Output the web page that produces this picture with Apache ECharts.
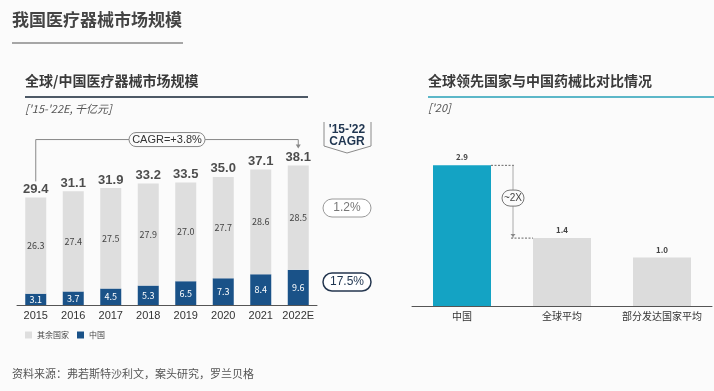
<!DOCTYPE html>
<html><head><meta charset="utf-8">
<script src="https://cdn.jsdelivr.net/npm/echarts@6/dist/echarts.min.js"></script>
<style>html,body{margin:0;padding:0;background:#fbfbfb}#c{width:714px;height:391px}</style>
</head><body><div id="c"></div>
<script>
var years = ['2015','2016','2017','2018','2019','2020','2021','2022E'];
var chinaVals = [3.1,3.7,4.5,5.3,6.5,7.3,8.4,9.6];
var otherVals = [26.3,27.4,27.5,27.9,27.0,27.7,28.6,28.5];
var totalVals = [29.4,31.1,31.9,33.2,33.5,35.0,37.1,38.1];
var cmpCats = ['中国','全球平均','部分发达国家平均'];
var cmpVals = [2.9,1.4,1.0];
var cagrText = 'CAGR=+3.8%';
var otherCagr = '1.2%';
var chinaCagr = '17.5%';

var FONT = '"Noto Sans CJK SC", "Liberation Sans", sans-serif';
var chart = echarts.init(document.getElementById('c'));

var staticGraphics = [
  {type:'text', left:12, top:11, style:{text:'我国医疗器械市场规模', font:'bold 17px '+FONT, fill:'#444'}},
  {type:'line', shape:{x1:12,y1:43,x2:183,y2:43}, style:{stroke:'#8a8a8a', lineWidth:1.5}},
  {type:'text', left:25, top:74, style:{text:'全球/中国医疗器械市场规模', font:'bold 14px '+FONT, fill:'#3a3a3a'}},
  {type:'line', shape:{x1:25,y1:97,x2:308,y2:97}, style:{stroke:'#4d5966', lineWidth:2}},
  {type:'text', left:25, top:103, style:{text:"['15-'22E, 千亿元]", font:'italic 11px '+FONT, fill:'#555'}},
  {type:'text', left:428, top:74, style:{text:'全球领先国家与中国药械比对比情况', font:'bold 14px '+FONT, fill:'#3a3a3a'}},
  {type:'line', shape:{x1:428,y1:97,x2:714,y2:97}, style:{stroke:'#5cb7c8', lineWidth:2}},
  {type:'text', left:428, top:102, style:{text:"['20]", font:'italic 11px '+FONT, fill:'#555'}},
  {type:'polyline', shape:{points:[[324,122],[324,146],[347,153],[371,146],[371,122]]}, style:{stroke:'#8a8a8a', lineWidth:1, fill:null}},
  {type:'text', x:347, y:130, style:{text:"'15-'22", font:'bold 12px "Liberation Sans", sans-serif', fill:'#1f3550', align:'center', verticalAlign:'middle'}},
  {type:'text', x:347, y:142, style:{text:'CAGR', font:'bold 12px "Liberation Sans", sans-serif', fill:'#1f3550', align:'center', verticalAlign:'middle'}},
  {type:'rect', shape:{x:323,y:199,width:48,height:18,r:9}, style:{fill:'#fff', stroke:'#9a9a9a', lineWidth:1}},
  {type:'text', x:347, y:208, style:{text:otherCagr, font:'12px "Liberation Sans", sans-serif', fill:'#777', align:'center', verticalAlign:'middle'}},
  {type:'rect', shape:{x:323,y:273,width:48,height:18,r:9}, style:{fill:'#fff', stroke:'#24364f', lineWidth:1.5}},
  {type:'text', x:347, y:282, style:{text:chinaCagr, font:'12px "Liberation Sans", sans-serif', fill:'#1f3550', align:'center', verticalAlign:'middle'}},
  {type:'text', left:12, top:368, style:{text:'资料来源：弗若斯特沙利文，案头研究，罗兰贝格', font:'11px '+FONT, fill:'#555'}}
];

var option = {
  backgroundColor:'#fbfbfb',
  animation:false,
  textStyle:{fontFamily:FONT},
  grid:[
    {left:17, width:300, top:158.6, bottom:86, containLabel:false},
    {left:412, width:300, top:160.5, bottom:85, containLabel:false}
  ],
  legend:{
    left:20, top:326, itemWidth:7, itemHeight:7, itemGap:8,
    textStyle:{fontSize:8, color:'#444', fontFamily:FONT},
    data:[{name:'其余国家', icon:'rect'},{name:'中国', icon:'rect'}]
  },
  xAxis:[
    {gridIndex:0, type:'category', data:years, axisTick:{show:false},
     axisLine:{lineStyle:{color:'#555', width:1}},
     axisLabel:{interval:0, fontSize:11, color:'#333', margin:5, fontFamily:'"Liberation Sans", sans-serif'}},
    {gridIndex:1, type:'category', data:cmpCats, axisTick:{show:false},
     axisLine:{lineStyle:{color:'#555', width:1}},
     axisLabel:{interval:0, fontSize:10, color:'#333', margin:5, fontFamily:FONT}}
  ],
  yAxis:[
    {gridIndex:0, type:'value', min:0, max:40, show:false, splitLine:{show:false}},
    {gridIndex:1, type:'value', min:0, max:3, show:false, splitLine:{show:false}}
  ],
  series:[
    {name:'中国', type:'bar', stack:'a', xAxisIndex:0, yAxisIndex:0, data:chinaVals, barWidth:'56%',
     itemStyle:{color:'#1a5288'},
     label:{show:true, position:'inside', fontSize:9, color:'#fff', formatter:function(p){return p.value.toFixed(1);}}},
    {name:'其余国家', type:'bar', stack:'a', xAxisIndex:0, yAxisIndex:0, data:otherVals, barWidth:'56%',
     itemStyle:{color:'#dedede'},
     label:{show:true, position:'inside', fontSize:9, color:'#444', formatter:function(p){return p.value.toFixed(1);}}},
    {name:'total', type:'scatter', xAxisIndex:0, yAxisIndex:0, data:totalVals, symbol:'circle', symbolSize:1,
     itemStyle:{color:'rgba(0,0,0,0)'}, silent:true,
     label:{show:true, position:'top', distance:1, fontSize:13, fontWeight:'bold', color:'#222',
            fontFamily:'"Liberation Sans", sans-serif', formatter:function(p){return p.value.toFixed(1);}}},
    {name:'cmp', type:'bar', xAxisIndex:1, yAxisIndex:1, barWidth:'58%',
     data:cmpVals.map(function(v,i){return {value:v, itemStyle:{color: i===0 ? '#14a3c4' : '#dcdcdc'}};}),
     label:{show:true, position:'top', distance:4, fontSize:8, fontWeight:'bold', color:'#444',
            formatter:function(p){return p.value.toFixed(1);}}}
  ],
  graphic: staticGraphics
};
chart.setOption(option);

var px = function(g, x, y){ return chart.convertToPixel({gridIndex:g}, [x, y]); };
var first = px(0, years[0], totalVals[0]);
var last = px(0, years[years.length-1], totalVals[totalVals.length-1]);
var by = last[1] - 26;
var ann = [];
ann.push({type:'polyline', shape:{points:[[first[0], first[1]-16],[first[0], by],[last[0], by],[last[0], last[1]-20]]}, style:{stroke:'#888', lineWidth:1, fill:null}});
ann.push({type:'polygon', shape:{points:[[last[0]-2.5, last[1]-21],[last[0]+2.5, last[1]-21],[last[0], last[1]-17]]}, style:{fill:'#888'}});
var midX = (first[0] + last[0]) / 2;
ann.push({type:'rect', shape:{x:midX-38, y:by-7, width:76, height:14, r:7}, style:{fill:'#fbfbfb', stroke:'#888', lineWidth:1}});
ann.push({type:'text', x:midX, y:by, style:{text:cagrText, font:'11px "Liberation Sans", sans-serif', fill:'#333', align:'center', verticalAlign:'middle'}});

var cTop = px(1, cmpCats[0], cmpVals[0]);
var gTop = px(1, cmpCats[1], cmpVals[1]);
var vx = cTop[0] + 51;
ann.push({type:'line', shape:{x1:cTop[0]+29, y1:cTop[1], x2:vx+2, y2:cTop[1]}, style:{stroke:'#666', lineWidth:1, lineDash:[2,1.5]}});
ann.push({type:'line', shape:{x1:vx, y1:cTop[1], x2:vx, y2:gTop[1]}, style:{stroke:'#aaa', lineWidth:1}});
ann.push({type:'line', shape:{x1:vx-2, y1:gTop[1], x2:gTop[0]-29, y2:gTop[1]}, style:{stroke:'#666', lineWidth:1, lineDash:[2,1.5]}});
ann.push({type:'polygon', shape:{points:[[vx-2.5, gTop[1]-4],[vx+2.5, gTop[1]-4],[vx, gTop[1]-1]]}, style:{fill:'#888'}});
var pillY = cTop[1] + (gTop[1]-cTop[1]) * 0.45;
ann.push({type:'rect', shape:{x:vx-11, y:pillY-8, width:22, height:16, r:8}, style:{fill:'#fbfbfb', stroke:'#777', lineWidth:1}});
ann.push({type:'text', x:vx, y:pillY, style:{text:'~2X', font:'10px "Liberation Sans", sans-serif', fill:'#444', align:'center', verticalAlign:'middle'}});

chart.setOption({graphic: staticGraphics.concat(ann)});
</script>
</body></html>
